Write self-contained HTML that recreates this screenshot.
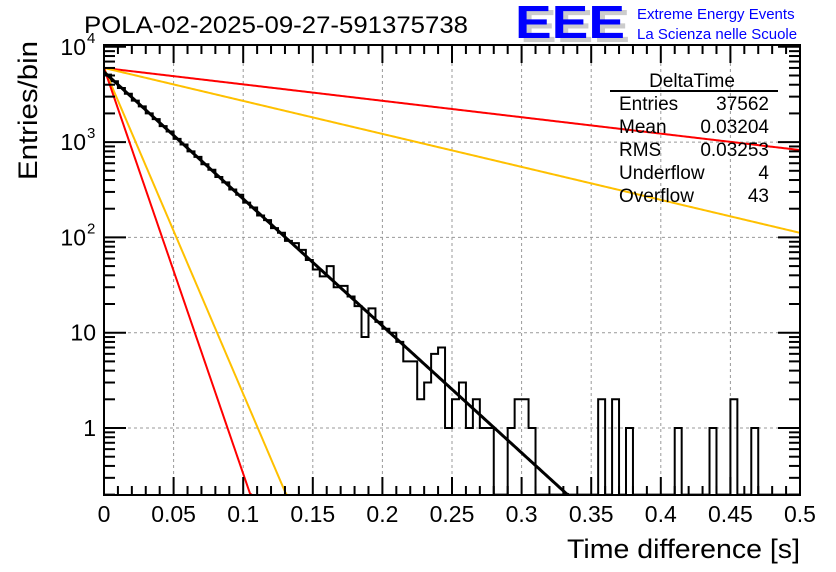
<!DOCTYPE html>
<html><head><meta charset="utf-8"><style>
body{margin:0;background:#fff;}
svg{display:block;font-family:"Liberation Sans",sans-serif;}
</style></head><body>
<svg id="chart" width="836" height="572" viewBox="0 0 836 572" xmlns="http://www.w3.org/2000/svg">
<rect width="836" height="572" fill="#fff"/>
<text x="84" y="33" font-size="24" fill="#000" textLength="384" lengthAdjust="spacingAndGlyphs">POLA-02-2025-09-27-591375738</text>
<g>
<text x="520" y="42" font-size="46" font-weight="bold" fill="#ccc" textLength="110" lengthAdjust="spacingAndGlyphs">EEE</text>
<text x="515" y="38" font-size="46" font-weight="bold" fill="#0000ff" textLength="110" lengthAdjust="spacingAndGlyphs">EEE</text>
<text x="637" y="19" font-size="15" fill="#0000ff">Extreme Energy Events</text>
<text x="637" y="39" font-size="15" fill="#0000ff">La Scienza nelle Scuole</text>
</g>
<g id="grid"></g>
<g id="marks"></g>
<g id="axes"></g>
<g font-size="19" fill="#000">
<text x="692" y="87" text-anchor="middle">DeltaTime</text>
<line x1="610" y1="91" x2="778" y2="91" stroke="#000" stroke-width="2"/>
<text x="619" y="110">Entries</text><text x="769" y="110" text-anchor="end">37562</text>
<text x="619" y="133">Mean</text><text x="769" y="133" text-anchor="end">0.03204</text>
<text x="619" y="156">RMS</text><text x="769" y="156" text-anchor="end">0.03253</text>
<text x="619" y="179">Underflow</text><text x="769" y="179" text-anchor="end">4</text>
<text x="619" y="202">Overflow</text><text x="769" y="202" text-anchor="end">43</text>
</g>
<text x="800" y="558" text-anchor="end" font-size="27" textLength="233" lengthAdjust="spacingAndGlyphs">Time difference [s]</text>
<text transform="translate(37,41) rotate(-90)" text-anchor="end" font-size="27" textLength="139" lengthAdjust="spacingAndGlyphs">Entries/bin</text>
</svg>
<script>
const binCounts = [5100,4350,3700,3220,2720,2370,2000,1740,1470,1290,1080,945,800,700,585,512,430,378,318,280,232,206,170,152,125,112,92,87,74,58,46,39,50,30,31,24,19,9,18,13,11,10,8,5,5,2,3,6,7,1,2,3,1,2,1,1,0,0,1,2,2,1,0,0,0,0,0,0,0,0,0,2,0,2,0,1,0,0,0,0,0,0,1,0,0,0,0,1,0,0,2,0,0,1,0,0,0,0,0,0];
const binWidth = 0.005;
const fitAmplitudes = [5450, 6000, 6000, 6000, 6000];
const fitTaus = [0.0326, 0.0102, 0.0127, 0.1255, 0.252];
const fitColors = ["#000", "#ff0000", "#ffc000", "#ffc000", "#ff0000"];
const fitNames = ["fit-main", "fit-fast-red", "fit-fast-yellow", "fit-slow-yellow", "fit-slow-red"];
const xTicks = [0,0.05,0.1,0.15,0.2,0.25,0.3,0.35,0.4,0.45,0.5];
const xTickLabels = ["0","0.05","0.1","0.15","0.2","0.25","0.3","0.35","0.4","0.45","0.5"];
const yTicks = [1,10,100,1000,10000];
const yTickBases = ["1","10","10","10","10"];
const yTickExps = ["","","2","3","4"];

const X0=104,X1=800,Y0=495,Y1=45,YMIN=0.2;
function xs(v){return X0+v/0.5*(X1-X0);}
function ys(n){const l=Math.log10(Math.max(n,YMIN));return 428-95.3*l;}
const NS="http://www.w3.org/2000/svg";
function mk(tag,attrs,parent){const e=document.createElementNS(NS,tag);for(const k in attrs)e.setAttribute(k,attrs[k]);parent.appendChild(e);return e;}
const grid=document.getElementById('grid'),marks=document.getElementById('marks'),axes=document.getElementById('axes');
xTicks.forEach((t,i)=>{if(i>0&&i<xTicks.length-1){const l=mk('line',{x1:xs(t),x2:xs(t),y1:Y1,y2:Y0,stroke:'#999','stroke-dasharray':'3,3','stroke-width':1},grid);

}});
yTicks.forEach(t=>{if(ys(t)>Y1+2){const l=mk('line',{x1:X0,x2:X1,y1:ys(t),y2:ys(t),stroke:'#999','stroke-dasharray':'3,3','stroke-width':1},grid);

}});
let d='';
binCounts.forEach((c,i)=>{const xa=xs(i*binWidth),xb=xs((i+1)*binWidth);const ya=ys(c>0?c:YMIN);
if(i===0)d+=`M${xa},${ya}`;else d+=`L${xa},${ya}`;d+=`L${xb},${ya}`;});
d+=`L${X1},${Y0}`;
const hist=mk('path',{d:d,fill:'none',stroke:'#000','stroke-width':2},marks);


mk('clipPath',{id:'clip'},marks).appendChild(document.createElementNS(NS,'rect'));
const cr=document.querySelector('#clip rect');cr.setAttribute('x',X0);cr.setAttribute('y',Y1);cr.setAttribute('width',X1-X0);cr.setAttribute('height',Y0-Y1);
[4,3,2,1,0].forEach(k=>{let pts=[];for(let j=0;j<=400;j++){const v=j/400*0.5;const n=fitAmplitudes[k]*Math.exp(-v/fitTaus[k]);if(n<YMIN){pts.push([xs(v),ys(YMIN)]);break;}pts.push([xs(v),ys(n)]);}
const p=mk('polyline',{points:pts.map(q=>q.join(',')).join(' '),fill:'none',stroke:fitColors[k],'stroke-width':k===0?3:2,'clip-path':'url(#clip)'},marks);

});
const fr=mk('rect',{x:X0,y:Y1,width:X1-X0,height:Y0-Y1,fill:'none',stroke:'#000','stroke-width':2},axes);


for(let j=0;j<=50;j++){const v=j*0.01;const x=xs(v);const major=j%5===0;const len=major?18:9;
mk('line',{x1:x,x2:x,y1:Y0,y2:Y0-len,stroke:'#000','stroke-width':2},axes);
mk('line',{x1:x,x2:x,y1:Y1,y2:Y1+len,stroke:'#000','stroke-width':2},axes);}
xTicks.forEach((t,i)=>{const tx=mk('text',{x:xs(t),y:522,'text-anchor':'middle','font-size':23},axes);tx.textContent=xTickLabels[i];

});
for(let e=-1;e<=4;e++){for(let m=1;m<=9;m++){const n=m*Math.pow(10,e);if(n<YMIN||n>10000)continue;const y=ys(n);const len=m===1?22:11;
mk('line',{x1:X0,x2:X0+len,y1:y,y2:y,stroke:'#000','stroke-width':2},axes);
mk('line',{x1:X1,x2:X1-len,y1:y,y2:y,stroke:'#000','stroke-width':2},axes);}}
yTicks.forEach((t,i)=>{const g=mk('text',{x:(yTickExps[i]?86:96),y:ys(t)+8,'text-anchor':'end','font-size':23},axes);


g.textContent=yTickBases[i];
if(yTickExps[i]){const s=mk('text',{x:87,y:ys(t)-4,'font-size':15},axes);s.textContent=yTickExps[i];

}});
</script>
</body></html>
